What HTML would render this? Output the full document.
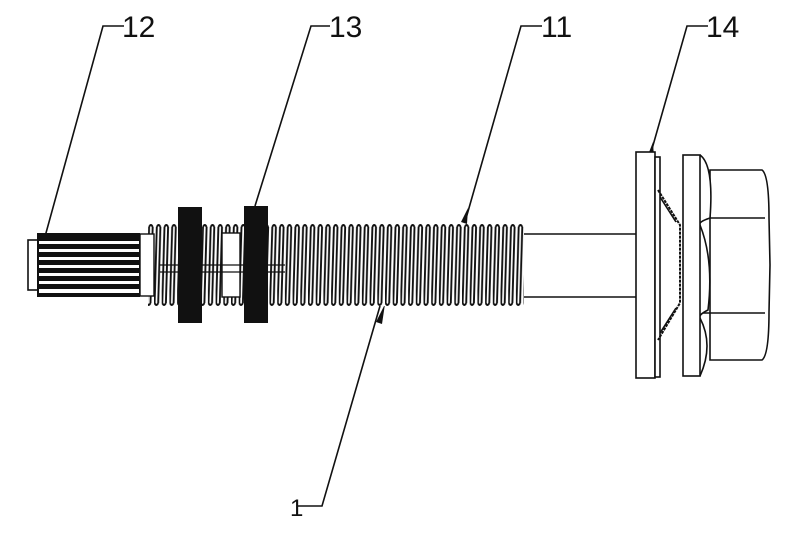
<!DOCTYPE html>
<html><head><meta charset="utf-8"><style>
html,body{margin:0;padding:0;background:#fff;}
svg{display:block;}
text{font-family:"Liberation Sans",sans-serif;font-size:30px;fill:#111;}
</style></head><body>
<svg width="799" height="537" viewBox="0 0 799 537" xmlns="http://www.w3.org/2000/svg">
<defs>
<pattern id="thr" patternUnits="userSpaceOnUse" x="0" y="224" width="7.7" height="82">
<rect width="7.7" height="82" fill="#fff"/>
<path d="M2.8 3 L0.6 79 M6.4 3 L4.2 79 M2.8 3 Q4.6 -1 6.4 3 M0.6 79 Q2.4 83 4.2 79" stroke="#111" stroke-width="1.9" fill="none"/>
</pattern>
</defs>
<g stroke="#111" fill="none" stroke-width="1.6">
<polyline points="124,26 103,26 38,262"/>
<polyline points="330,26 311,26 255,206"/>
<polyline points="542,26 521,26 465,222"/>
<polyline points="708,26 687,26 650,156"/>
<polyline points="298,506 322,506 380,306"/>
</g>
<g fill="#111">
<polygon points="376,322 385,304 382,324"/>
<polygon points="461,222 468,208 467,224"/>
<polygon points="646,160 653,142 654,158"/>
</g>
<text x="122" y="37">12</text>
<text x="329" y="37">13</text>
<text x="541" y="37">11</text>
<text x="706" y="37">14</text>
<text x="290" y="516" style="font-size:24px">1</text>

<rect x="148" y="224" width="376" height="82" fill="url(#thr)"/>
<rect x="222" y="233" width="18" height="64" fill="#fff" stroke="#111" stroke-width="1.4"/>
<line x1="160" y1="265" x2="285" y2="265" stroke="#111" stroke-width="1.2"/>
<line x1="160" y1="272" x2="285" y2="272" stroke="#111" stroke-width="1.2"/>
<rect x="140" y="234" width="14" height="62" fill="#fff" stroke="#111" stroke-width="1.4"/>
<rect x="28" y="240" width="10" height="50" fill="#fff" stroke="#111" stroke-width="1.6"/>
<rect x="37" y="233" width="103" height="64" fill="#111"/>
<g fill="#fff">
<rect x="39" y="241" width="100" height="3"/>
<rect x="39" y="249" width="100" height="3"/>
<rect x="39" y="257" width="100" height="3"/>
<rect x="39" y="265" width="100" height="3"/>
<rect x="39" y="273" width="100" height="3"/>
<rect x="39" y="281" width="100" height="3"/>
<rect x="39" y="289" width="100" height="4"/>
</g>
<rect x="178" y="207" width="24" height="116" fill="#111"/>
<rect x="244" y="206" width="24" height="117" fill="#111"/>
<g stroke="#111" stroke-width="1.6" fill="#fff">
<path d="M524 234 H637 M524 297 H637" fill="none"/>
<rect x="636" y="152" width="19" height="226"/>
<rect x="655" y="157" width="5" height="220"/>
<path d="M658 190 L680 225 L680 303 L658 340" fill="none" stroke-dasharray="3 1" stroke-width="2"/>
<path d="M660 197 L676 222 M660 333 L676 308" fill="none"/>
<path d="M710 170 H762 Q769 175 769 218 L770 265 L769 312 Q769 355 762 360 H710 Z"/>
<path d="M702 218 H765 M702 313 H765" fill="none"/>
<path d="M700 155 Q714 165 710 218 Q698 222 700 225 Q714 260 708 310 Q698 315 700 318 Q714 345 700 376" fill="#fff"/>
<rect x="683" y="155" width="17" height="221"/>
</g>
</svg>
</body></html>
